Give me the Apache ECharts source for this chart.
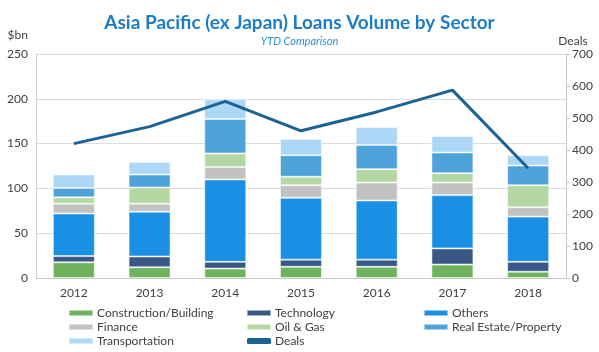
<!DOCTYPE html>
<html><head><meta charset="utf-8">
<script src="https://cdn.jsdelivr.net/npm/echarts@6/dist/echarts.min.js"></script>
<style>html,body{margin:0;padding:0;background:#fff}#c{width:599px;height:352px}</style>
</head><body><div id="c"></div>
<script>
const years = ['2012','2013','2014','2015','2016','2017','2018'];
const construction = [17.5, 12, 10.5, 12.5, 12.5, 15, 7];
const technology   = [7, 12, 7.5, 8, 8, 18, 11];
const others       = [47.5, 50, 92, 69, 66, 59.5, 50.5];
const finance      = [11, 9, 14, 14, 20, 14, 10.5];
const oilGas       = [7, 18, 15, 9.5, 15, 10.5, 24.5];
const realEstate   = [10.5, 14.5, 38.5, 24, 27, 23, 22];
const transport    = [15, 14, 22, 18, 20, 18.5, 11.5];
const deals        = [420, 473, 552, 460, 519, 587, 343];
const leftTicks = {min:0, max:250, interval:50};
const rightTicks = {min:0, max:700, interval:100};

const FONT = 'Lato';
const chart = echarts.init(document.getElementById('c'), null, {renderer:'canvas'});
const barSeries = [
  ['Construction/Building', construction, '#70b35f'],
  ['Technology', technology, '#3a5887'],
  ['Others', others, '#1a90e4'],
  ['Finance', finance, '#c2c2c2'],
  ['Oil & Gas', oilGas, '#b4d8a3'],
  ['Real Estate/Property', realEstate, '#4ea3da'],
  ['Transportation', transport, '#acd7f6']
].map(([name, data, color]) => ({
  name, type:'bar', stack:'total', data, barWidth:42,
  itemStyle:{color, borderColor:'rgba(255,255,255,0.5)', borderWidth:1},
  emphasis:{disabled:true}
}));
const legendBase = {
  orient:'vertical', itemWidth:24, itemHeight:6, itemGap:0, icon:'rect', height:80, padding:0,
  textStyle:{fontFamily:FONT, fontSize:12, color:'#404040', lineHeight:14, padding:[0,0,0,-1]},
  selectedMode:false
};
chart.setOption({
  animation:false,
  textStyle:{fontFamily:FONT},
  title:{
    text:'Asia Pacific (ex Japan) Loans Volume by Sector',
    subtext:'YTD Comparison',
    left:'center', top:8, itemGap:4,
    textStyle:{fontFamily:FONT, fontSize:19, fontWeight:'bold', color:'#1b7cc9'},
    subtextStyle:{fontFamily:FONT, fontSize:11, fontStyle:'italic', color:'#2a8fd6'}
  },
  legend:[
    Object.assign({left:68, top:306, data:['Construction/Building','Finance','Transportation']}, legendBase),
    Object.assign({left:246, top:306, data:['Technology','Oil & Gas',{name:'Deals', icon:'roundRect', itemStyle:{color:'#1c6394'}}]}, legendBase),
    Object.assign({left:423, top:306, data:['Others','Real Estate/Property']}, legendBase)
  ],
  grid:{left:36, right:33, top:54, bottom:74},
  xAxis:{
    type:'category', data:years,
    axisLine:{lineStyle:{color:'#c8c8c8'}}, axisTick:{show:false},
    axisLabel:{fontFamily:FONT, fontSize:12, color:'#404040', margin:9}
  },
  yAxis:[
    {type:'value', min:leftTicks.min, max:leftTicks.max, interval:leftTicks.interval,
     name:'$bn', nameLocation:'end', nameGap:13,
     nameTextStyle:{fontFamily:FONT, fontSize:12, color:'#404040', align:'right', padding:[0,8,0,0]},
     axisLine:{show:true, lineStyle:{color:'#d0d0d0'}}, axisTick:{show:false},
     axisLabel:{fontFamily:FONT, fontSize:12, color:'#404040', margin:8},
     splitLine:{lineStyle:{color:'#dcdcdc'}}},
    {type:'value', min:rightTicks.min, max:rightTicks.max, interval:rightTicks.interval,
     name:'Deals', nameLocation:'end', nameGap:7,
     nameTextStyle:{fontFamily:FONT, fontSize:12, color:'#404040', align:'center', padding:[0,0,0,14]},
     axisLine:{show:true, lineStyle:{color:'#c8c8c8'}},
     axisTick:{show:true, length:4, lineStyle:{color:'#c8c8c8'}},
     axisLabel:{fontFamily:FONT, fontSize:12, color:'#404040', margin:6},
     splitLine:{show:false}}
  ],
  series: barSeries.concat([{
    name:'Deals', type:'line', yAxisIndex:1, data:deals,
    symbol:'none', lineStyle:{color:'#1c6394', width:3}, itemStyle:{color:'#1c6394'},
    emphasis:{disabled:true}
  }])
});
</script></body></html>
